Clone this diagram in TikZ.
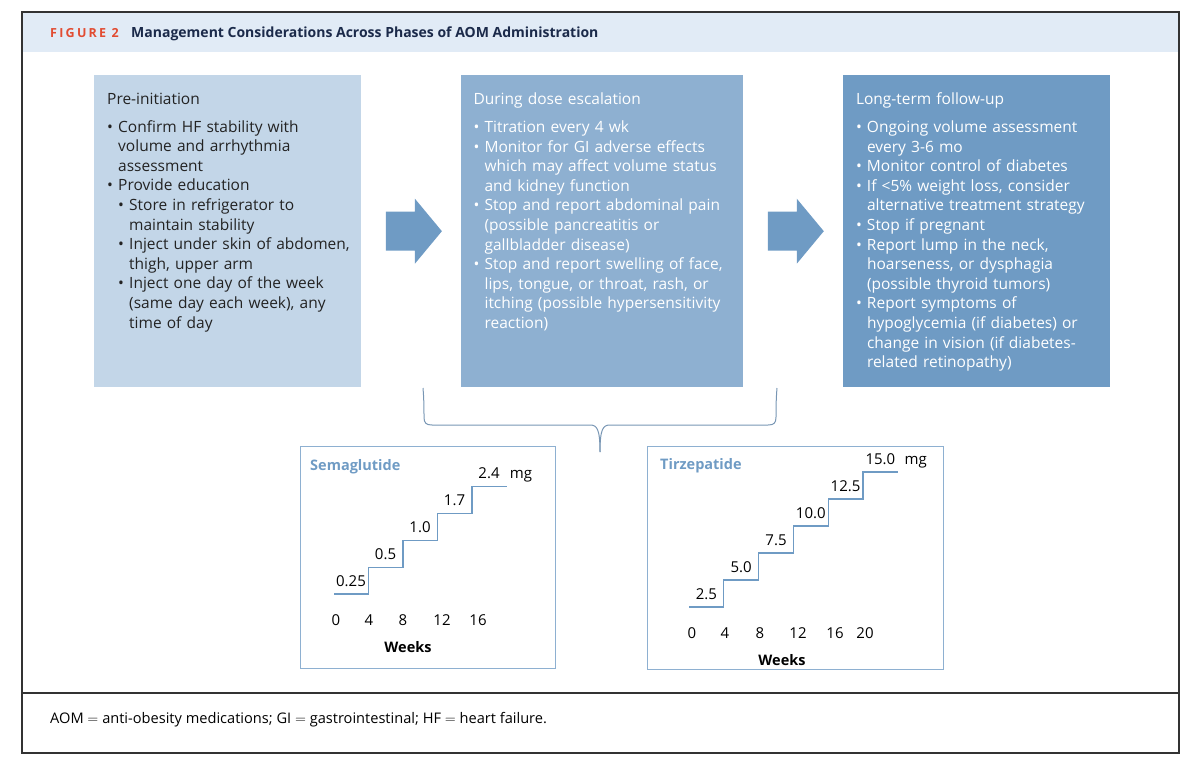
\documentclass[tikz,border=0pt]{standalone}
\usepackage{fontspec}
\setmainfont{Open Sans}
\usetikzlibrary{positioning,calc}

\definecolor{barblue}{RGB}{225,235,246}
\definecolor{figred}{RGB}{226,76,50}
\definecolor{navy}{RGB}{27,42,74}
\definecolor{paleblue}{RGB}{195,214,232}
\definecolor{midblue}{RGB}{142,176,209}
\definecolor{deepblue}{RGB}{111,155,196}
\definecolor{inkgray}{RGB}{35,35,35}
\definecolor{bracegray}{RGB}{120,150,180}

\newcommand{\itm}[1]{\par\hangindent=11pt\hangafter=1\noindent\makebox[11pt][l]{\textbullet}#1}
\newcommand{\subitm}[1]{\par\hangindent=22pt\hangafter=1\noindent\hspace*{11pt}\makebox[11pt][l]{\textbullet}#1}

\tikzset{
  phase/.style={anchor=north west, inner sep=0pt, minimum height=312pt},
  boxtext/.style={anchor=north west, inner sep=0pt, text width=285pt, align=left,
    font=\fontsize{15.5}{19.6}\selectfont},
  chartbox/.style={draw=midblue, line width=1.2pt, anchor=north west, inner sep=0pt},
  stair/.style={deepblue, line width=1.3pt},
  dose/.style={inner sep=0pt, anchor=base, font=\fontsize{15}{18}\selectfont},
  tick/.style={inner sep=0pt, font=\fontsize{15}{18}\selectfont},
  charttitle/.style={inner sep=0pt, anchor=west, text=deepblue, font=\fontsize{14.5}{17}\selectfont\bfseries},
  axistitle/.style={inner sep=0pt, font=\fontsize{14.5}{17}\selectfont\bfseries},
  brace/.style={bracegray, line width=1pt},
  frame/.style={draw=black!80, line width=1.3pt}
}

\begin{document}
\begin{tikzpicture}[x=1pt,y=-1pt]
\useasboundingbox (0,0) rectangle (1200,768);

% frame and title bar
\fill[barblue] (22,12) rectangle (1179,52);
\draw[frame] (22,12) rectangle (1179,753);
\draw[frame] (22,693) -- (1179,693);
\node[anchor=west, inner sep=0pt, text=figred] (fig-no) at (50,33)
  {\fontsize{12.5}{14}\selectfont\bfseries\addfontfeature{LetterSpace=18}FIGURE 2};
\node[inner sep=0pt, text=navy, base right=12pt of fig-no] (fig-title)
  {\fontsize{14}{16}\selectfont\bfseries Management Considerations Across Phases of AOM Administration};

% the three phases
\node[phase, fill=paleblue, minimum width=267pt] (pre) at (94,75) {};
\node[phase, fill=midblue, minimum width=282pt, right=99pt of pre] (esc) {};
\node[phase, fill=deepblue, minimum width=267pt, right=100pt of esc] (long) {};

\node[boxtext, text=inkgray] (pre-txt) at ([xshift=13pt,yshift=-17.5pt]pre.north west) {Pre-initiation\par\vspace{8.4pt}
\itm{Confirm HF stability with\newline volume and arrhythmia\newline assessment}
\itm{Provide education}
\subitm{Store in refrigerator to\newline maintain stability}
\subitm{Inject under skin of abdomen,\newline thigh, upper arm}
\subitm{Inject one day of the week\newline (same day each week), any\newline time of day}\par};

\node[boxtext, text=white] (esc-txt) at ([xshift=13pt,yshift=-17.5pt]esc.north west) {During dose escalation\par\vspace{8.4pt}
\itm{Titration every 4 wk}
\itm{Monitor for GI adverse effects\newline which may affect volume status\newline and kidney function}
\itm{Stop and report abdominal pain\newline (possible pancreatitis or\newline gallbladder disease)}
\itm{Stop and report swelling of face,\newline lips, tongue, or throat, rash, or\newline itching (possible hypersensitivity\newline reaction)}\par};

\node[boxtext, text=white] (long-txt) at ([xshift=13pt,yshift=-17.5pt]long.north west) {Long-term follow-up\par\vspace{8.4pt}
\itm{Ongoing volume assessment\newline every 3-6 mo}
\itm{Monitor control of diabetes}
\itm{If <5\% weight loss, consider\newline alternative treatment strategy}
\itm{Stop if pregnant}
\itm{Report lump in the neck,\newline hoarseness, or dysphagia\newline (possible thyroid tumors)}
\itm{Report symptoms of\newline hypoglycemia (if diabetes) or\newline change in vision (if diabetes-\newline related retinopathy)}\par};

% block arrows
\foreach \a/\b in {pre/esc, esc/long}
  \fill[deepblue, shift={($(\a.east)!0.5!(\b.west)+(3,0)$)}]
    (-28,-19.5) -- (1,-19.5) -- (1,-32.5) -- (28,0) -- (1,32.5) -- (1,19.5) -- (-28,19.5) -- cycle;

% brace under dose escalation
\foreach \s in {-1,1}
  \draw[brace] (600+\s*177,388) .. controls (600+\s*176,400) and (600+\s*176,410) .. (600+\s*176,417)
    .. controls (600+\s*176,423) and (600+\s*174,425) .. (600+\s*168,425) -- (600+\s*10,425)
    .. controls (600+\s*3,425) and (600,429) .. (600,452);

% semaglutide
\node[chartbox, minimum width=255pt, minimum height=222pt] (sema) at (300,446) {};
\node[charttitle] (sema-title) at (310,467) {Semaglutide};
\draw[stair] (334,594) \foreach \i in {1,...,4} { -- ++(34.5,0) -- ++(0,-26.8) } -- ++(34.5,0);
\foreach \d [count=\i from 0] in {0.25,0.5,1.0,1.7,2.4}
  \node[dose] (sema-d\i) at (351+34.5*\i, 586-26.8*\i) {\d};
\node[dose, base right=10pt of sema-d4] (sema-mg) {mg};
\foreach \w/\xx in {0/336,4/369,8/403,12/442,16/478}
  \node[tick] (sema-w\w) at (\xx,620) {\w};
\node[axistitle] (sema-axis) at (408,647) {Weeks};

% tirzepatide
\node[chartbox, minimum width=296pt, minimum height=223pt] (tirz) at (647,446) {};
\node[charttitle] (tirz-title) at (660,466) {Tirzepatide};
\draw[stair] (689,607) \foreach \i in {1,...,5} { -- ++(34.8,0) -- ++(0,-27) } -- ++(34.8,0);
\foreach \d [count=\i from 0] in {2.5,5.0,7.5,10.0,12.5,15.0}
  \node[dose] (tirz-d\i) at (706.4+34.8*\i, 599-27*\i) {\d};
\node[dose, base right=9pt of tirz-d5] (tirz-mg) {mg};
\foreach \w/\xx in {0/692,4/725,8/760,12/798,16/835,20/865}
  \node[tick] (tirz-w\w) at (\xx,633) {\w};
\node[axistitle] (tirz-axis) at (782,660) {Weeks};

% footnote
\node[anchor=west, inner sep=0pt] (notes) at (50,720)
  {\fontsize{14.6}{17}\selectfont AOM $=$ anti-obesity medications; GI $=$ gastrointestinal; HF $=$ heart failure.};

\end{tikzpicture}
\end{document}
